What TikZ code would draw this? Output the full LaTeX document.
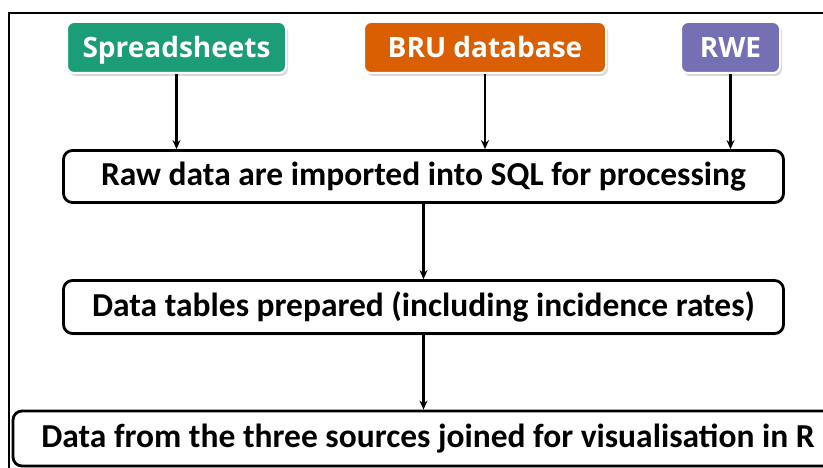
\documentclass[tikz,border=0pt]{standalone}
\usepackage{fontspec}
\setmainfont{Carlito}
\newfontfamily\srcfont{Open Sans}
\usetikzlibrary{arrows.meta,shadows}
\definecolor{dgreen}{HTML}{1B9E77}
\definecolor{dorange}{HTML}{D95F02}
\definecolor{dpurple}{HTML}{7570B3}
\begin{document}
\begin{tikzpicture}[x=1pt,y=-1pt,
  src/.style={rounded corners=7pt, draw=white, line width=2pt, text=white,
    font=\srcfont\bfseries\fontsize{28}{32}\selectfont, minimum height=51pt, inner sep=0pt,
    text height=26pt, text depth=6pt,
    drop shadow={shadow xshift=2pt, shadow yshift=-3pt, opacity=0.25, fill=black!60}},
  stepbox/.style={rounded corners=9pt, draw=black, line width=2.8pt, fill=white,
    font=\bfseries\fontsize{33.5}{38}\selectfont, inner sep=0pt,
    drop shadow={shadow xshift=1.5pt, shadow yshift=-2pt, opacity=0.15, fill=black!60}},
  arr/.style={line width=2.2pt, -{Stealth[length=9pt,width=8pt]}}]
\useasboundingbox (0,0) rectangle (823,468);
\clip (0,0) rectangle (823,468);
\fill[white] (0,0) rectangle (823,468);
\draw[line width=2.2pt] (9,13) rectangle (840,490);
\node[src, fill=dgreen, minimum width=219pt] (s1) at (176.5,47.5) {Spreadsheets};
\node[src, fill=dorange, minimum width=242pt] (s2) at (485,47.5) {BRU database};
\node[src, fill=dpurple, minimum width=99pt] (s3) at (730.5,47.5) {RWE};
\node[stepbox, minimum width=720pt, minimum height=52pt] (b1) at (423.5,176.5) {Raw data are imported into SQL for processing};
\node[stepbox, minimum width=720pt, minimum height=53pt] (b2) at (423.5,307) {Data tables prepared (including incidence rates)};
\node[stepbox, minimum width=822pt, minimum height=55pt] (b3) at (424,438.5) {\hspace*{8pt}Data from the three sources joined for visualisation in R};
\draw[arr] (s1.south) -- (s1.south |- b1.north);
\draw[arr] (s2.south) -- (s2.south |- b1.north);
\draw[arr] (s3.south) -- (s3.south |- b1.north);
\draw[arr] (b1.south) -- (b2.north);
\draw[arr] (b2.south) -- (b3.north -| b2.south);
\end{tikzpicture}
\end{document}
